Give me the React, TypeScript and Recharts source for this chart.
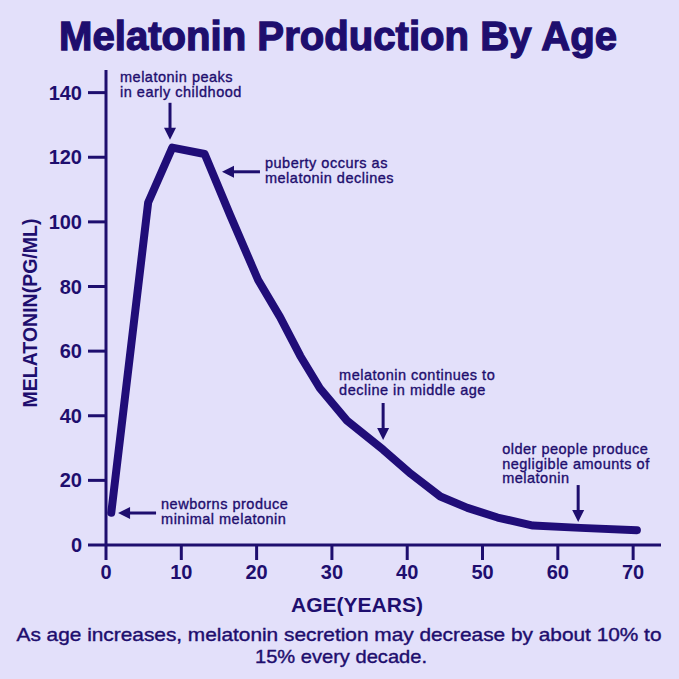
import React from 'react'
import { LineChart, Line, XAxis, YAxis, ReferenceDot } from 'recharts'

const AGES = [0.7, 5.6, 8.8, 13.1, 16.5, 20.2, 23.1, 25.8, 28.4, 32, 36.8, 40.5, 44.4, 48, 52, 56.7, 63, 70.5]
const LEVELS = [10, 106, 123, 121, 102, 82, 70.6, 58.5, 48.5, 38.5, 29.5, 22, 15, 11.5, 8.5, 6, 5.3, 4.6]

const X_TICKS = [0, 10, 20, 30, 40, 50, 60, 70]
const Y_TICKS = [0, 20, 40, 60, 80, 100, 120, 140]

// arrow tips in data units
const NOTE_AGES = [8.5, 15.4, 36.8, 62.7, 1.6]
const NOTE_LEVELS = [125.4, 115.5, 32.5, 7.1, 9.9]
const NOTE_DIRS = ['down', 'left', 'down', 'down', 'left']
const NOTE_TEXTS = [
  ['melatonin peaks', 'in early childhood'],
  ['puberty occurs as', 'melatonin declines'],
  ['melatonin continues to', 'decline in middle age'],
  ['older people produce', 'negligible amounts of', 'melatonin'],
  ['newborns produce', 'minimal melatonin'],
]

const BG = '#E3E0FA'
const NAVY = '#1E0E6E'
const LINE = '#200D78'
const FONT = '"Liberation Sans", Arial, sans-serif'

const data = AGES.map((age, i) => ({ age, level: LEVELS[i] }))

function Note({ cx, cy, dir, lines, idx }: any) {
  let tx = 0
  let ty = 0
  let shaft = null
  let head = ''
  if (dir === 'down') {
    shaft = <line x1={cx} y1={cy - 37} x2={cx} y2={cy - 10} stroke={NAVY} strokeWidth={3} />
    head = `M${cx - 6},${cy - 12} L${cx + 6},${cy - 12} L${cx},${cy} Z`
    if (idx === 0) { tx = cx - 50; ty = cy - 58 }
    else if (idx === 2) { tx = cx - 44; ty = cy - 60 }
    else { tx = cx - 76; ty = cy - 68 }
  } else {
    shaft = <line x1={cx + 10} y1={cy} x2={cx + 38} y2={cy} stroke={NAVY} strokeWidth={3} />
    head = `M${cx + 12},${cy - 6} L${cx + 12},${cy + 6} L${cx},${cy} Z`
    tx = cx + 43
    ty = cy - 4
  }
  const step = lines.length === 3 ? 14.5 : 15
  return (
    <g>
      {shaft}
      <path d={head} fill={NAVY} />
      <text x={tx} fontFamily={FONT} fontSize={14.5} letterSpacing={0.5} fill={NAVY}
        stroke={NAVY} strokeWidth={0.35}>
        {lines.map((l: string, i: number) => (
          <tspan key={i} x={tx} y={ty + i * step}>{l}</tspan>
        ))}
      </text>
    </g>
  )
}

export default function App() {
  return (
    <div style={{ position: 'absolute', left: 0, top: 0, width: 679, height: 679, background: BG }}>
      <svg width={679} height={679} style={{ position: 'absolute', left: 0, top: 0 }}>
        <text x={338} y={50} textAnchor="middle" fontFamily={FONT} fontWeight="bold" fontSize={40}
          fill={NAVY} stroke={NAVY} strokeWidth={1.3} textLength={558} lengthAdjust="spacingAndGlyphs">
          Melatonin Production By Age
        </text>
        <text x={357} y={612} textAnchor="middle" fontFamily={FONT} fontWeight="bold" fontSize={21} fill={NAVY}>
          AGE(YEARS)
        </text>
        <text transform="translate(37,313) rotate(-90)" textAnchor="middle" fontFamily={FONT}
          fontWeight="bold" fontSize={19.5} fill={NAVY}>
          MELATONIN(PG/ML)
        </text>
        <text x={339} y={641} textAnchor="middle" fontFamily={FONT} fontSize={19} fill={NAVY}
          stroke={NAVY} strokeWidth={0.4} textLength={645} lengthAdjust="spacingAndGlyphs">
          As age increases, melatonin secretion may decrease by about 10% to
        </text>
        <text x={341} y={663} textAnchor="middle" fontFamily={FONT} fontSize={19} fill={NAVY}
          stroke={NAVY} strokeWidth={0.4} textLength={172} lengthAdjust="spacingAndGlyphs">
          15% every decade.
        </text>
      </svg>
      <div style={{ position: 'absolute', left: 0, top: 0 }}>
        <LineChart width={679} height={679} data={data} margin={{ top: 70, right: 18, left: 0, bottom: 74 }}>
          <XAxis
            dataKey="age"
            type="number"
            domain={[0, 73.7]}
            ticks={X_TICKS}
            height={60}
            tickSize={15}
            tickMargin={5}
            axisLine={{ stroke: NAVY, strokeWidth: 3 }}
            tickLine={{ stroke: NAVY, strokeWidth: 3 }}
            tick={{ fill: NAVY, fontSize: 20, fontWeight: 'bold', fontFamily: FONT }}
          />
          <YAxis
            type="number"
            domain={[0, 147]}
            ticks={Y_TICKS}
            width={106}
            tickSize={18}
            tickMargin={6}
            axisLine={{ stroke: NAVY, strokeWidth: 3 }}
            tickLine={{ stroke: NAVY, strokeWidth: 3 }}
            tick={{ fill: NAVY, fontSize: 20, fontWeight: 'bold', fontFamily: FONT }}
          />
          <Line
            dataKey="level"
            type="linear"
            stroke={LINE}
            strokeWidth={8}
            strokeLinejoin="round"
            strokeLinecap="round"
            dot={false}
            activeDot={false}
            isAnimationActive={false}
          />
          {NOTE_AGES.map((a, i) => (
            <ReferenceDot
              key={i}
              x={a}
              y={NOTE_LEVELS[i]}
              ifOverflow="visible"
              shape={(p: any) => <Note cx={p.cx} cy={p.cy} dir={NOTE_DIRS[i]} lines={NOTE_TEXTS[i]} idx={i} />}
            />
          ))}
        </LineChart>
      </div>
    </div>
  )
}
